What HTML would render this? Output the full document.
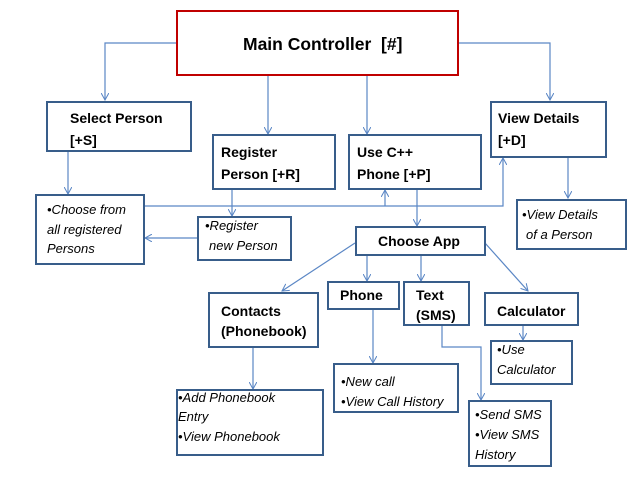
<!DOCTYPE html>
<html><head><meta charset="utf-8"><style>
html,body{margin:0;padding:0;background:#fff}
svg{display:block}
text{font-family:"Liberation Sans",sans-serif;fill:#000}
.b{font-weight:bold;font-size:14px}
.i{font-style:italic;font-size:13px}
</style></head><body>
<svg width="640" height="479" viewBox="0 0 640 479" xmlns="http://www.w3.org/2000/svg">
<defs>
<marker id="a" viewBox="0 0 10 10" refX="9" refY="5" markerWidth="8" markerHeight="8" orient="auto" markerUnits="userSpaceOnUse">
<path d="M0,0 L9,5 L0,10" fill="none" stroke="#5b87c5" stroke-width="1.3"/>
</marker>
</defs>
<g fill="none" stroke="#5b87c5" stroke-width="1.2">
<path d="M177,43 H105 V100" marker-end="url(#a)"/>
<path d="M458,43 H550 V100" marker-end="url(#a)"/>
<path d="M268,76 V134" marker-end="url(#a)"/>
<path d="M367,76 V134" marker-end="url(#a)"/>
<path d="M68,151 V194" marker-end="url(#a)"/>
<path d="M144,206 H503 V158" marker-end="url(#a)"/>
<path d="M385,206 V190" marker-end="url(#a)"/>
<path d="M232,189 V216" marker-end="url(#a)"/>
<path d="M198,238 H145" marker-end="url(#a)"/>
<path d="M417,189 V226" marker-end="url(#a)"/>
<path d="M568,157 V198" marker-end="url(#a)"/>
<path d="M355,243 L282,291" marker-end="url(#a)"/>
<path d="M367,255 V281" marker-end="url(#a)"/>
<path d="M421,255 V281" marker-end="url(#a)"/>
<path d="M485,243 L528,291" marker-end="url(#a)"/>
<path d="M373,309 V363" marker-end="url(#a)"/>
<path d="M442,325 V347 H481 V400" marker-end="url(#a)"/>
<path d="M253,347 V389" marker-end="url(#a)"/>
<path d="M523,325 V340" marker-end="url(#a)"/>
</g>
<rect x="177" y="11" width="281" height="64" fill="#fff" stroke="#c00000" stroke-width="2"/>
<g fill="#fff" stroke="#385d8a" stroke-width="2">
<rect x="47" y="102" width="144" height="49"/>
<rect x="213" y="135" width="122" height="54"/>
<rect x="349" y="135" width="132" height="54"/>
<rect x="491" y="102" width="115" height="55"/>
<rect x="36" y="195" width="108" height="69"/>
<rect x="198" y="217" width="93" height="43"/>
<rect x="517" y="200" width="109" height="49"/>
<rect x="356" y="227" width="129" height="28"/>
<rect x="209" y="293" width="109" height="54"/>
<rect x="328" y="282" width="71" height="27"/>
<rect x="404" y="282" width="65" height="43"/>
<rect x="485" y="293" width="93" height="32"/>
<rect x="491" y="341" width="81" height="43"/>
<rect x="177" y="390" width="146" height="65"/>
<rect x="334" y="364" width="124" height="48"/>
<rect x="469" y="401" width="82" height="65"/>
</g>
<text x="243" y="50" font-weight="bold" font-size="17.5">Main Controller&#160; [#]</text>
<text class="b" x="70" y="123">Select Person</text>
<text class="b" x="70" y="145">[+S]</text>
<text class="b" x="221" y="157">Register</text>
<text class="b" x="221" y="179">Person [+R]</text>
<text class="b" x="357" y="157">Use C++</text>
<text class="b" x="357" y="179">Phone [+P]</text>
<text class="b" x="498" y="123">View Details</text>
<text class="b" x="498" y="145">[+D]</text>
<text class="i" x="47" y="214">•Choose from</text>
<text class="i" x="47" y="234">all registered</text>
<text class="i" x="47" y="253">Persons</text>
<text class="i" x="205" y="230">•Register</text>
<text class="i" x="209" y="250">new Person</text>
<text class="i" x="522" y="219">•View Details</text>
<text class="i" x="526" y="239">of a Person</text>
<text class="b" x="378" y="246" font-size="13.5">Choose App</text>
<text class="b" x="221" y="316" font-size="13.5">Contacts</text>
<text class="b" x="221" y="336" font-size="13">(Phonebook)</text>
<text class="b" x="340" y="300" font-size="13.5">Phone</text>
<text class="b" x="416" y="300" font-size="13.5">Text</text>
<text class="b" x="416" y="320" font-size="13.5">(SMS)</text>
<text class="b" x="497" y="316" font-size="13">Calculator</text>
<text class="i" x="497" y="354">•Use</text>
<text class="i" x="497" y="374">Calculator</text>
<text class="i" x="178" y="402">•Add Phonebook</text>
<text class="i" x="178" y="421">Entry</text>
<text class="i" x="178" y="441">•View Phonebook</text>
<text class="i" x="341" y="386">•New call</text>
<text class="i" x="341" y="406">•View Call History</text>
<text class="i" x="475" y="419">•Send SMS</text>
<text class="i" x="475" y="439">•View SMS</text>
<text class="i" x="475" y="459">History</text>
</svg>
</body></html>
